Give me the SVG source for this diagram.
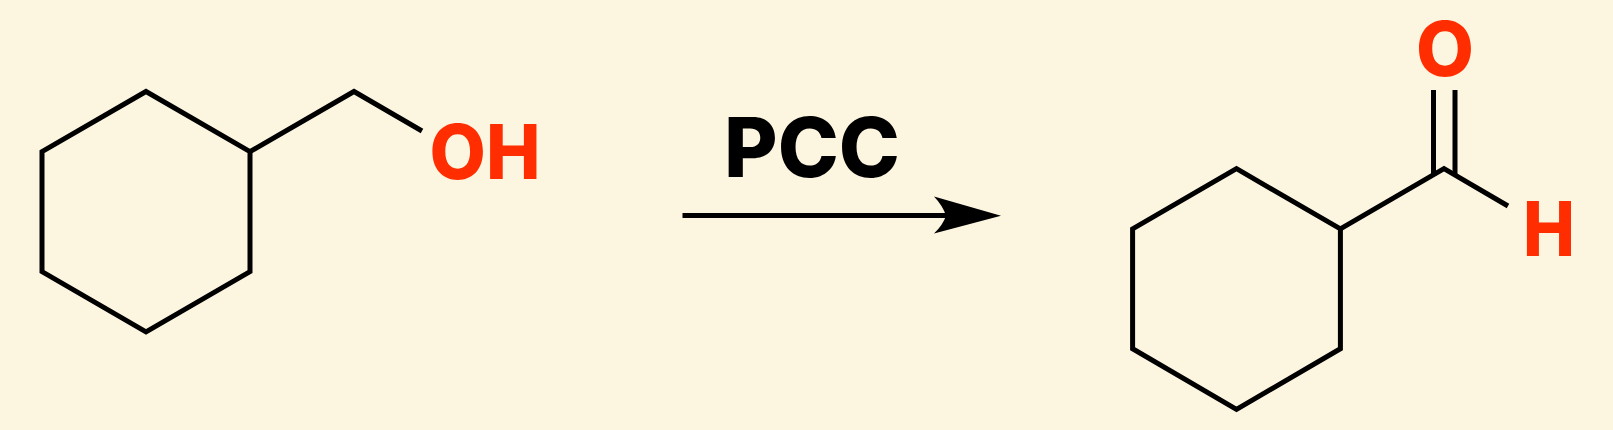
<svg xmlns="http://www.w3.org/2000/svg" width="1613" height="430" viewBox="0 0 1613 430">
<style>
.b{fill:none;stroke:#000;stroke-width:5;stroke-linejoin:miter;stroke-linecap:butt}
.a{font-family:"Inter","Liberation Sans",sans-serif;font-weight:800;font-size:75px;fill:#ff2d00}
.r{font-family:"Inter","Liberation Sans",sans-serif;font-weight:800;font-size:82px;fill:#000}
.k{fill:#000}
</style>
<rect width="1613" height="430" fill="#fcf5e0"/>
<g id="connectors">
<path class="b" d="M682.500 215.600H948"/>
</g>
<g id="arrowhead"><path class="k" d="M1001 215.800L934 196.500Q943 206 946 215.800Q943 225 934 233.500Z"/></g>
<g id="reactant">
<path class="b" d="M146 91.500L250 151.700V271.600L146 331.800L42 271.600V151.700Z"/>
<path class="b" d="M250 151.700L354 91.500L422 131"/>
<text class="a" x="429.500" y="178.500" textLength="111" lengthAdjust="spacingAndGlyphs">OH</text>
</g>
<g id="reagent"><text class="r" x="724" y="177" textLength="176" lengthAdjust="spacingAndGlyphs">PCC</text></g>
<g id="product">
<path class="b" d="M1236.500 168.700L1340.400 228.900V348.700L1236.500 409.400L1132.600 348.700V228.900Z"/>
<path class="b" d="M1340.400 228.900L1444 168.700L1508 206"/>
<path class="b" d="M1433.500 90V174M1455 90V174"/>
<text class="a" x="1416" y="76">O</text>
<text class="a" x="1523" y="256" textLength="52" lengthAdjust="spacingAndGlyphs">H</text>
</g>
</svg>
